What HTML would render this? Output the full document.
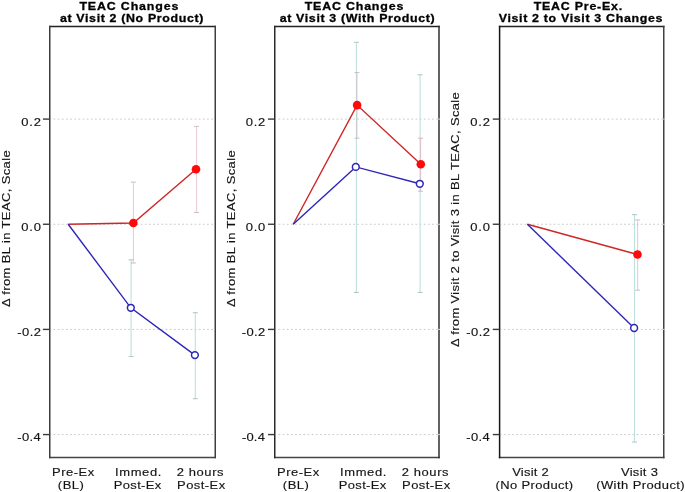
<!DOCTYPE html>
<html><head><meta charset="utf-8"><title>TEAC Changes</title>
<style>
html,body{margin:0;padding:0;background:#fff;width:685px;height:492px;overflow:hidden;}
svg{display:block;will-change:transform;}
text{font-family:"Liberation Sans",sans-serif;}
</style></head>
<body>
<svg width="685" height="492" viewBox="0 0 685 492">
<line x1="50.75" y1="119.09" x2="215.25" y2="119.09" stroke="#cbcbcb" stroke-width="1" stroke-dasharray="1.8 2.35" stroke-dashoffset="1.40"/>
<line x1="50.75" y1="224.25" x2="215.25" y2="224.25" stroke="#cbcbcb" stroke-width="1" stroke-dasharray="1.8 2.35" stroke-dashoffset="1.40"/>
<line x1="50.75" y1="329.41" x2="215.25" y2="329.41" stroke="#cbcbcb" stroke-width="1" stroke-dasharray="1.8 2.35" stroke-dashoffset="1.40"/>
<line x1="50.75" y1="434.57" x2="215.25" y2="434.57" stroke="#cbcbcb" stroke-width="1" stroke-dasharray="1.8 2.35" stroke-dashoffset="1.40"/>
<line x1="275.75" y1="119.09" x2="439.0" y2="119.09" stroke="#cbcbcb" stroke-width="1" stroke-dasharray="1.8 2.35" stroke-dashoffset="1.41"/>
<line x1="275.75" y1="224.25" x2="439.0" y2="224.25" stroke="#cbcbcb" stroke-width="1" stroke-dasharray="1.8 2.35" stroke-dashoffset="1.41"/>
<line x1="275.75" y1="329.41" x2="439.0" y2="329.41" stroke="#cbcbcb" stroke-width="1" stroke-dasharray="1.8 2.35" stroke-dashoffset="1.41"/>
<line x1="275.75" y1="434.57" x2="439.0" y2="434.57" stroke="#cbcbcb" stroke-width="1" stroke-dasharray="1.8 2.35" stroke-dashoffset="1.41"/>
<line x1="500.6" y1="119.09" x2="663.75" y2="119.09" stroke="#cbcbcb" stroke-width="1" stroke-dasharray="1.8 2.35" stroke-dashoffset="0.96"/>
<line x1="500.6" y1="224.25" x2="663.75" y2="224.25" stroke="#cbcbcb" stroke-width="1" stroke-dasharray="1.8 2.35" stroke-dashoffset="0.96"/>
<line x1="500.6" y1="329.41" x2="663.75" y2="329.41" stroke="#cbcbcb" stroke-width="1" stroke-dasharray="1.8 2.35" stroke-dashoffset="0.96"/>
<line x1="500.6" y1="434.57" x2="663.75" y2="434.57" stroke="#cbcbcb" stroke-width="1" stroke-dasharray="1.8 2.35" stroke-dashoffset="0.96"/>
<g stroke-width="1.5" stroke-linecap="square"><line x1="49.75" y1="26.6" x2="215.25" y2="26.6" stroke="#232323"/><line x1="49.75" y1="457.55" x2="215.25" y2="457.55" stroke="#444444"/><line x1="49.75" y1="26.6" x2="49.75" y2="457.55" stroke="#3c3c3c"/><line x1="215.25" y1="26.6" x2="215.25" y2="457.55" stroke="#3e3e3e"/></g>
<line x1="42.95" y1="119.09" x2="49.75" y2="119.09" stroke="#3a3a3a" stroke-width="1.4"/>
<line x1="42.95" y1="224.25" x2="49.75" y2="224.25" stroke="#3a3a3a" stroke-width="1.4"/>
<line x1="42.95" y1="329.41" x2="49.75" y2="329.41" stroke="#3a3a3a" stroke-width="1.4"/>
<line x1="42.95" y1="434.57" x2="49.75" y2="434.57" stroke="#3a3a3a" stroke-width="1.4"/>
<g stroke-width="1.5" stroke-linecap="square"><line x1="274.75" y1="26.6" x2="439.0" y2="26.6" stroke="#232323"/><line x1="274.75" y1="457.55" x2="439.0" y2="457.55" stroke="#444444"/><line x1="274.75" y1="26.6" x2="274.75" y2="457.55" stroke="#2a2a2a"/><line x1="439.0" y1="26.6" x2="439.0" y2="457.55" stroke="#2f2f2f"/></g>
<line x1="267.95" y1="119.09" x2="274.75" y2="119.09" stroke="#3a3a3a" stroke-width="1.4"/>
<line x1="267.95" y1="224.25" x2="274.75" y2="224.25" stroke="#3a3a3a" stroke-width="1.4"/>
<line x1="267.95" y1="329.41" x2="274.75" y2="329.41" stroke="#3a3a3a" stroke-width="1.4"/>
<line x1="267.95" y1="434.57" x2="274.75" y2="434.57" stroke="#3a3a3a" stroke-width="1.4"/>
<g stroke-width="1.5" stroke-linecap="square"><line x1="499.6" y1="26.6" x2="663.75" y2="26.6" stroke="#232323"/><line x1="499.6" y1="457.55" x2="663.75" y2="457.55" stroke="#444444"/><line x1="499.6" y1="26.6" x2="499.6" y2="457.55" stroke="#161616"/><line x1="663.75" y1="26.6" x2="663.75" y2="457.55" stroke="#404040"/></g>
<line x1="492.8" y1="119.09" x2="499.6" y2="119.09" stroke="#3a3a3a" stroke-width="1.4"/>
<line x1="492.8" y1="224.25" x2="499.6" y2="224.25" stroke="#3a3a3a" stroke-width="1.4"/>
<line x1="492.8" y1="329.41" x2="499.6" y2="329.41" stroke="#3a3a3a" stroke-width="1.4"/>
<line x1="492.8" y1="434.57" x2="499.6" y2="434.57" stroke="#3a3a3a" stroke-width="1.4"/>
<rect x="438.00" y="118.59" width="2.0" height="1.0" fill="#d6d6d6"/>
<rect x="438.00" y="223.75" width="2.0" height="1.0" fill="#d6d6d6"/>
<rect x="438.00" y="328.91" width="2.0" height="1.0" fill="#d6d6d6"/>
<rect x="438.00" y="434.07" width="2.0" height="1.0" fill="#d6d6d6"/>
<rect x="662.75" y="118.59" width="2.0" height="1.0" fill="#d6d6d6"/>
<rect x="662.75" y="223.75" width="2.0" height="1.0" fill="#d6d6d6"/>
<rect x="662.75" y="328.91" width="2.0" height="1.0" fill="#d6d6d6"/>
<rect x="662.75" y="434.07" width="2.0" height="1.0" fill="#d6d6d6"/>
<g stroke-width="1.1" opacity="1.0"><line x1="131.1" y1="259.8" x2="131.1" y2="356.5" stroke="#bee0de"/><line x1="128.6" y1="259.8" x2="133.6" y2="259.8" stroke="#b2caca"/><line x1="128.6" y1="356.5" x2="133.6" y2="356.5" stroke="#b2caca"/></g>
<g stroke-width="1.1" opacity="1.0"><line x1="195.3" y1="312.7" x2="195.3" y2="398.7" stroke="#bee0de"/><line x1="192.8" y1="312.7" x2="197.8" y2="312.7" stroke="#b2caca"/><line x1="192.8" y1="398.7" x2="197.8" y2="398.7" stroke="#b2caca"/></g>
<g stroke-width="1.1" opacity="0.6"><line x1="133.4" y1="182.1" x2="133.4" y2="263.0" stroke="#dfaabb"/><line x1="130.9" y1="182.1" x2="135.9" y2="182.1" stroke="#b89aa6"/><line x1="130.9" y1="263.0" x2="135.9" y2="263.0" stroke="#b89aa6"/></g>
<g stroke-width="1.1" opacity="0.6"><line x1="196.5" y1="126.4" x2="196.5" y2="212.5" stroke="#dfaabb"/><line x1="194.0" y1="126.4" x2="199.0" y2="126.4" stroke="#b89aa6"/><line x1="194.0" y1="212.5" x2="199.0" y2="212.5" stroke="#b89aa6"/></g>
<polyline points="68.2,224.25 133.35,223.0 196.0,169.2" fill="none" stroke="#cf2626" stroke-width="1.4"/>
<polyline points="68.2,224.25 130.8,307.8 194.9,355.1" fill="none" stroke="#2d26b8" stroke-width="1.4"/>
<circle cx="133.35" cy="223.0" r="4.3" fill="#ff0a0a"/>
<circle cx="196.0" cy="169.2" r="4.3" fill="#ff0a0a"/>
<circle cx="130.8" cy="307.8" r="3.4" fill="#fff" stroke="#2d26b8" stroke-width="1.5"/>
<circle cx="194.9" cy="355.1" r="3.4" fill="#fff" stroke="#2d26b8" stroke-width="1.5"/>
<g stroke-width="1.1" opacity="1.0"><line x1="356.4" y1="42.3" x2="356.4" y2="292.4" stroke="#bee0de"/><line x1="353.9" y1="42.3" x2="358.9" y2="42.3" stroke="#b2caca"/><line x1="353.9" y1="292.4" x2="358.9" y2="292.4" stroke="#b2caca"/></g>
<g stroke-width="1.1" opacity="1.0"><line x1="420.1" y1="74.8" x2="420.1" y2="292.4" stroke="#bee0de"/><line x1="417.6" y1="74.8" x2="422.6" y2="74.8" stroke="#b2caca"/><line x1="417.6" y1="292.4" x2="422.6" y2="292.4" stroke="#b2caca"/></g>
<g stroke-width="1.1" opacity="0.6"><line x1="357.0" y1="72.5" x2="357.0" y2="138.2" stroke="#dfaabb"/><line x1="354.5" y1="72.5" x2="359.5" y2="72.5" stroke="#b89aa6"/><line x1="354.5" y1="138.2" x2="359.5" y2="138.2" stroke="#b89aa6"/></g>
<g stroke-width="1.1" opacity="0.6"><line x1="420.6" y1="138.2" x2="420.6" y2="191.2" stroke="#dfaabb"/><line x1="418.1" y1="138.2" x2="423.1" y2="138.2" stroke="#b89aa6"/><line x1="418.1" y1="191.2" x2="423.1" y2="191.2" stroke="#b89aa6"/></g>
<polyline points="293.2,224.25 357.1,105.1 420.8,164.2" fill="none" stroke="#cf2626" stroke-width="1.4"/>
<polyline points="293.2,224.25 355.8,166.9 419.8,183.8" fill="none" stroke="#2d26b8" stroke-width="1.4"/>
<circle cx="357.1" cy="105.1" r="4.3" fill="#ff0a0a"/>
<circle cx="420.8" cy="164.2" r="4.3" fill="#ff0a0a"/>
<circle cx="355.8" cy="166.9" r="3.4" fill="#fff" stroke="#2d26b8" stroke-width="1.5"/>
<circle cx="419.8" cy="183.8" r="3.4" fill="#fff" stroke="#2d26b8" stroke-width="1.5"/>
<g stroke-width="1.1" opacity="1.0"><line x1="634.5" y1="214.6" x2="634.5" y2="442.0" stroke="#bee0de"/><line x1="632.0" y1="214.6" x2="637.0" y2="214.6" stroke="#b2caca"/><line x1="632.0" y1="442.0" x2="637.0" y2="442.0" stroke="#b2caca"/></g>
<g stroke-width="1.1" opacity="0.6"><line x1="637.6" y1="219.9" x2="637.6" y2="290.2" stroke="#dfaabb"/><line x1="635.1" y1="219.9" x2="640.1" y2="219.9" stroke="#b89aa6"/><line x1="635.1" y1="290.2" x2="640.1" y2="290.2" stroke="#b89aa6"/></g>
<polyline points="527.4,224.3 637.5,254.5" fill="none" stroke="#cf2626" stroke-width="1.4"/>
<polyline points="527.4,224.3 634.1,328.0" fill="none" stroke="#2d26b8" stroke-width="1.4"/>
<circle cx="637.5" cy="254.5" r="4.3" fill="#ff0a0a"/>
<circle cx="634.1" cy="328.0" r="3.4" fill="#fff" stroke="#2d26b8" stroke-width="1.5"/>
<text transform="translate(79.40,9.70) scale(1.08,1)" font-size="11.5" font-weight="bold" textLength="91.60" lengthAdjust="spacing" fill="#000" stroke="#000" stroke-width="0.3">TEAC Changes</text>
<text transform="translate(59.92,22.00) scale(1.08,1)" font-size="11.5" font-weight="bold" textLength="132.91" lengthAdjust="spacing" fill="#000" stroke="#000" stroke-width="0.3">at Visit 2 (No Product)</text>
<text transform="translate(304.65,9.70) scale(1.08,1)" font-size="11.5" font-weight="bold" textLength="91.35" lengthAdjust="spacing" fill="#000" stroke="#000" stroke-width="0.3">TEAC Changes</text>
<text transform="translate(279.70,22.00) scale(1.08,1)" font-size="11.5" font-weight="bold" textLength="143.51" lengthAdjust="spacing" fill="#000" stroke="#000" stroke-width="0.3">at Visit 3 (With Product)</text>
<text transform="translate(533.73,9.70) scale(1.08,1)" font-size="11.5" font-weight="bold" textLength="81.89" lengthAdjust="spacing" fill="#000" stroke="#000" stroke-width="0.3">TEAC Pre-Ex.</text>
<text transform="translate(498.70,22.00) scale(1.08,1)" font-size="11.5" font-weight="bold" textLength="151.59" lengthAdjust="spacing" fill="#000" stroke="#000" stroke-width="0.3">Visit 2 to Visit 3 Changes</text>
<text transform="translate(52.10,475.80) scale(1.18,1)" font-size="11.0" textLength="35.63" lengthAdjust="spacing" fill="#111" stroke="#222" stroke-width="0.15">Pre-Ex</text>
<text transform="translate(57.77,489.30) scale(1.18,1)" font-size="11.0" textLength="22.12" lengthAdjust="spacing" fill="#111" stroke="#222" stroke-width="0.15">(BL)</text>
<text transform="translate(115.03,475.80) scale(1.18,1)" font-size="11.0" textLength="39.29" lengthAdjust="spacing" fill="#111" stroke="#222" stroke-width="0.15">Immed.</text>
<text transform="translate(113.87,489.30) scale(1.18,1)" font-size="11.0" textLength="40.15" lengthAdjust="spacing" fill="#111" stroke="#222" stroke-width="0.15">Post-Ex</text>
<text transform="translate(176.67,475.80) scale(1.18,1)" font-size="11.0" textLength="39.78" lengthAdjust="spacing" fill="#111" stroke="#222" stroke-width="0.15">2 hours</text>
<text transform="translate(177.09,489.30) scale(1.18,1)" font-size="11.0" textLength="40.73" lengthAdjust="spacing" fill="#111" stroke="#222" stroke-width="0.15">Post-Ex</text>
<text transform="translate(277.10,475.80) scale(1.18,1)" font-size="11.0" textLength="35.63" lengthAdjust="spacing" fill="#111" stroke="#222" stroke-width="0.15">Pre-Ex</text>
<text transform="translate(282.77,489.30) scale(1.18,1)" font-size="11.0" textLength="22.12" lengthAdjust="spacing" fill="#111" stroke="#222" stroke-width="0.15">(BL)</text>
<text transform="translate(340.03,475.80) scale(1.18,1)" font-size="11.0" textLength="39.29" lengthAdjust="spacing" fill="#111" stroke="#222" stroke-width="0.15">Immed.</text>
<text transform="translate(338.87,489.30) scale(1.18,1)" font-size="11.0" textLength="40.15" lengthAdjust="spacing" fill="#111" stroke="#222" stroke-width="0.15">Post-Ex</text>
<text transform="translate(401.67,475.80) scale(1.18,1)" font-size="11.0" textLength="39.78" lengthAdjust="spacing" fill="#111" stroke="#222" stroke-width="0.15">2 hours</text>
<text transform="translate(402.09,489.30) scale(1.18,1)" font-size="11.0" textLength="40.73" lengthAdjust="spacing" fill="#111" stroke="#222" stroke-width="0.15">Post-Ex</text>
<text transform="translate(512.24,475.80) scale(1.18,1)" font-size="11.0" textLength="30.83" lengthAdjust="spacing" fill="#111" stroke="#222" stroke-width="0.15">Visit 2</text>
<text transform="translate(495.48,489.30) scale(1.18,1)" font-size="11.0" textLength="65.84" lengthAdjust="spacing" fill="#111" stroke="#222" stroke-width="0.15">(No Product)</text>
<text transform="translate(620.89,475.80) scale(1.18,1)" font-size="11.0" textLength="31.41" lengthAdjust="spacing" fill="#111" stroke="#222" stroke-width="0.15">Visit 3</text>
<text transform="translate(596.17,489.30) scale(1.18,1)" font-size="11.0" textLength="75.03" lengthAdjust="spacing" fill="#111" stroke="#222" stroke-width="0.15">(With Product)</text>
<text transform="translate(21.28,125.69) scale(1.18,1)" font-size="11.0" textLength="16.73" lengthAdjust="spacing" fill="#111" stroke="#222" stroke-width="0.15">0.2</text>
<text transform="translate(21.28,230.85) scale(1.18,1)" font-size="11.0" textLength="16.72" lengthAdjust="spacing" fill="#111" stroke="#222" stroke-width="0.15">0.0</text>
<text transform="translate(17.34,336.01) scale(1.18,1)" font-size="11.0" textLength="20.04" lengthAdjust="spacing" fill="#111" stroke="#222" stroke-width="0.15">-0.2</text>
<text transform="translate(17.32,441.17) scale(1.18,1)" font-size="11.0" textLength="19.88" lengthAdjust="spacing" fill="#111" stroke="#222" stroke-width="0.15">-0.4</text>
<text transform="translate(245.86,125.69) scale(1.18,1)" font-size="11.0" textLength="16.45" lengthAdjust="spacing" fill="#111" stroke="#222" stroke-width="0.15">0.2</text>
<text transform="translate(245.70,230.85) scale(1.18,1)" font-size="11.0" textLength="16.52" lengthAdjust="spacing" fill="#111" stroke="#222" stroke-width="0.15">0.0</text>
<text transform="translate(241.72,336.01) scale(1.18,1)" font-size="11.0" textLength="19.95" lengthAdjust="spacing" fill="#111" stroke="#222" stroke-width="0.15">-0.2</text>
<text transform="translate(241.89,441.17) scale(1.18,1)" font-size="11.0" textLength="19.49" lengthAdjust="spacing" fill="#111" stroke="#222" stroke-width="0.15">-0.4</text>
<text transform="translate(470.28,125.69) scale(1.18,1)" font-size="11.0" textLength="16.73" lengthAdjust="spacing" fill="#111" stroke="#222" stroke-width="0.15">0.2</text>
<text transform="translate(470.28,230.85) scale(1.18,1)" font-size="11.0" textLength="16.72" lengthAdjust="spacing" fill="#111" stroke="#222" stroke-width="0.15">0.0</text>
<text transform="translate(466.34,336.01) scale(1.18,1)" font-size="11.0" textLength="20.04" lengthAdjust="spacing" fill="#111" stroke="#222" stroke-width="0.15">-0.2</text>
<text transform="translate(466.32,441.17) scale(1.18,1)" font-size="11.0" textLength="19.88" lengthAdjust="spacing" fill="#111" stroke="#222" stroke-width="0.15">-0.4</text>
<text transform="translate(9.80,307.03) rotate(-90) scale(1.18,1)" font-size="11.0" textLength="132.81" lengthAdjust="spacing" fill="#111" stroke="#222" stroke-width="0.15">Δ from BL in TEAC, Scale</text>
<text transform="translate(234.80,307.03) rotate(-90) scale(1.18,1)" font-size="11.0" textLength="132.81" lengthAdjust="spacing" fill="#111" stroke="#222" stroke-width="0.15">Δ from BL in TEAC, Scale</text>
<text transform="translate(459.00,347.12) rotate(-90) scale(1.18,1)" font-size="11.0" textLength="216.06" lengthAdjust="spacing" fill="#111" stroke="#222" stroke-width="0.15">Δ from Visit 2 to Visit 3 in BL TEAC, Scale</text>
</svg>
</body></html>
